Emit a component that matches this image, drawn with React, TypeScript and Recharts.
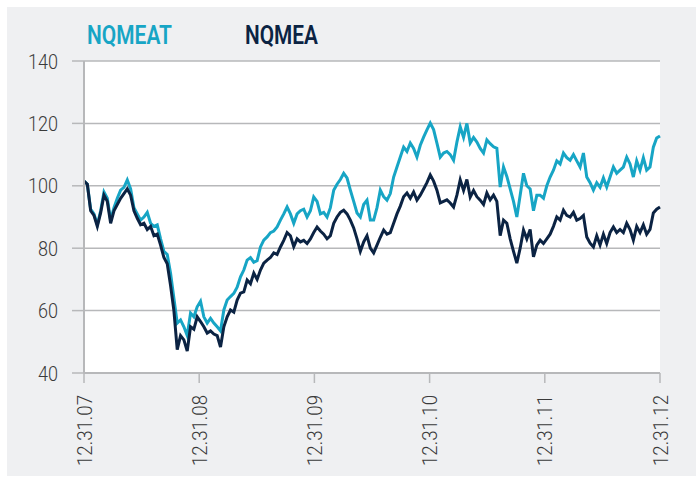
import { LineChart, Line, XAxis, YAxis, CartesianGrid } from 'recharts';

// index levels, rebased to 100 at 12.31.07, sampled evenly over five years
const nqmeat = [
  101.5, 100.5, 92.5, 91, 87.5, 92, 98, 96, 89, 93, 96, 98.6, 99.5, 101.9, 99, 93, 91, 89, 90, 91.5,
  88, 87, 87.5, 83, 79, 78, 72, 64, 56, 57, 54.8, 52, 59.2, 58, 61.2, 63, 58, 56, 57.5, 56,
  54.8, 53.5, 60.2, 63.4, 64.5, 65.5, 67.5, 70.8, 73, 76.2, 77, 75.5, 76, 80.4, 82.6, 83.6, 85, 85.5, 86.8, 89,
  91, 93.2, 91, 88, 91, 92, 92.5, 90, 92, 96.4, 95, 91, 91.5, 90, 93, 98.6, 100.5, 102, 104, 102.5,
  98.6, 95, 91.3, 90, 94, 95.4, 89, 89, 93, 98.6, 96.5, 95.4, 97.5, 102.8, 106, 109.2, 112.4, 111, 113.7, 112,
  109.2, 113, 115.6, 117.9, 120.1, 118, 113.7, 109.2, 110.5, 111, 110, 108.2, 114, 118.9, 115.5, 120, 113.7, 115.5, 114, 112,
  110.5, 114.7, 113.5, 112.5, 112, 99.6, 106, 103, 99, 95, 90, 97, 104, 100, 99, 92, 97, 97, 96, 100,
  102.8, 105, 108, 107, 110.5, 109, 108.2, 110, 108, 106, 110.5, 102.8, 101, 98.6, 101, 99.5, 102.5, 99.6, 102.8, 106,
  104, 105, 106, 109.2, 107, 102.8, 108, 105, 109, 105, 106, 112.4, 115.3, 116,
];

const nqmea = [
  101.5, 100.5, 92, 90.5, 87, 91.3, 97, 95, 88, 92, 94, 96, 97.5, 99, 97, 92, 89.6, 87.5, 88, 86,
  87, 84, 84.5, 81, 77, 75, 68, 60, 47.5, 52, 50.6, 47, 54.8, 54, 58, 56.5, 54.8, 52.8, 53.5, 52.5,
  52, 48.3, 54.8, 58, 60.2, 59.5, 63.4, 65.6, 66, 69.8, 68.6, 72, 70, 73, 75.2, 76.2, 77, 78.5, 78, 80.4,
  82.5, 85, 84, 80.5, 83, 82, 82.5, 81.5, 83, 85, 86.8, 85.5, 84.5, 83, 84, 88, 90, 91.5, 92.2, 91,
  89, 86.5, 83, 79, 82, 84, 80, 78.5, 81, 83.5, 85.8, 84.5, 85, 88, 91, 93.5, 96.5, 97.7, 96, 98,
  95.4, 97, 99, 101, 103.5, 101.5, 98.6, 94.5, 95, 95.5, 94.5, 93.2, 97, 101.9, 98.5, 102, 96.4, 98.5, 96.5, 95.4,
  94, 97.7, 95.5, 97, 95, 84, 89, 88, 83, 79, 75.2, 80, 85.8, 83, 86, 77.2, 81, 82.6, 81.5, 83,
  84.5, 87, 90, 89, 92.2, 90.5, 90, 91.5, 89, 89.5, 90.5, 83.6, 81.6, 80.4, 84, 81, 84.5, 81.5, 85, 86.8,
  85, 86, 85, 88, 86, 82.6, 87, 85, 87.5, 84.5, 86, 91.3, 92.5, 93.2,
];

const dateLabels = ['12.31.07', '12.31.08', '12.31.09', '12.31.10', '12.31.11', '12.31.12'];
const yTicks = [40, 60, 80, 100, 120, 140];

const TEAL = '#17a5c5';
const NAVY = '#0b2343';
const GRID = '#b7b8ba';
const FONT = 'Roboto, sans-serif';

const LAST = nqmea.length - 1;
const data = nqmea.map((v, i) => ({ i, nqmea: v, nqmeat: nqmeat[i] }));
const xTicks = dateLabels.map((_, k) => (k * LAST) / (dateLabels.length - 1));

const YTick = ({ x, y, payload }: any) => {
  const s = String(payload.value);
  return (
    <text x={x} y={y} dy="0.36em" textAnchor="end" fill="#3a3a3a" fontFamily={FONT} fontWeight={300}
      fontSize={21} textLength={s.length * 10} lengthAdjust="spacingAndGlyphs">
      {s}
    </text>
  );
};

const XTick = ({ x, y, payload }: any) => {
  const idx = xTicks.findIndex((t) => Math.abs(t - payload.value) < 0.01);
  return (
    <g transform={`translate(${x},${y})`}>
      <text transform="rotate(-90)" textAnchor="end" dy="0.36em" fill="#3a3a3a" fontFamily={FONT}
        fontWeight={300} fontSize={21} textLength={71} lengthAdjust="spacingAndGlyphs">
        {dateLabels[idx]}
      </text>
    </g>
  );
};

export default function App() {
  return (
    <div style={{ position: 'absolute', left: 0, top: 0, width: 696, height: 477, background: '#fff' }}>
      <div style={{ position: 'absolute', left: 7, top: 7, width: 689, height: 469, background: '#eff0f2' }} />
      <div style={{ position: 'absolute', left: 0, top: 0 }}>
        <LineChart width={696} height={477} data={data} margin={{ top: 61, right: 36, bottom: 4, left: 0 }}>
          <CartesianGrid vertical={false} stroke={GRID} strokeWidth={1.5} fill="#fff" />
          <XAxis
            dataKey="i"
            type="number"
            domain={[0, LAST]}
            ticks={xTicks}
            interval={0}
            height={100}
            tickSize={10}
            tickMargin={12}
            axisLine={{ stroke: GRID, strokeWidth: 2 }}
            tickLine={{ stroke: GRID, strokeWidth: 1.5 }}
            tick={<XTick />}
          />
          <YAxis
            domain={[40, 140]}
            ticks={yTicks}
            width={84}
            tickSize={12}
            tickMargin={14}
            axisLine={{ stroke: GRID, strokeWidth: 2 }}
            tickLine={{ stroke: GRID, strokeWidth: 1.5 }}
            tick={<YTick />}
          />
          <Line type="linear" dataKey="nqmeat" stroke={TEAL} strokeWidth={3} strokeLinejoin="miter" dot={false} isAnimationActive={false} />
          <Line type="linear" dataKey="nqmea" stroke={NAVY} strokeWidth={3} strokeLinejoin="miter" dot={false} isAnimationActive={false} />
        </LineChart>
      </div>
      {/* legend */}
      <svg width={696} height={60} style={{ position: 'absolute', left: 0, top: 0 }}>
        <text x={87} y={44} fill={TEAL} fontFamily={FONT} fontWeight={600} fontSize={25}
          textLength={85} lengthAdjust="spacingAndGlyphs">NQMEAT</text>
        <text x={245} y={44} fill={NAVY} fontFamily={FONT} fontWeight={600} fontSize={25}
          textLength={73} lengthAdjust="spacingAndGlyphs">NQMEA</text>
      </svg>
    </div>
  );
}
